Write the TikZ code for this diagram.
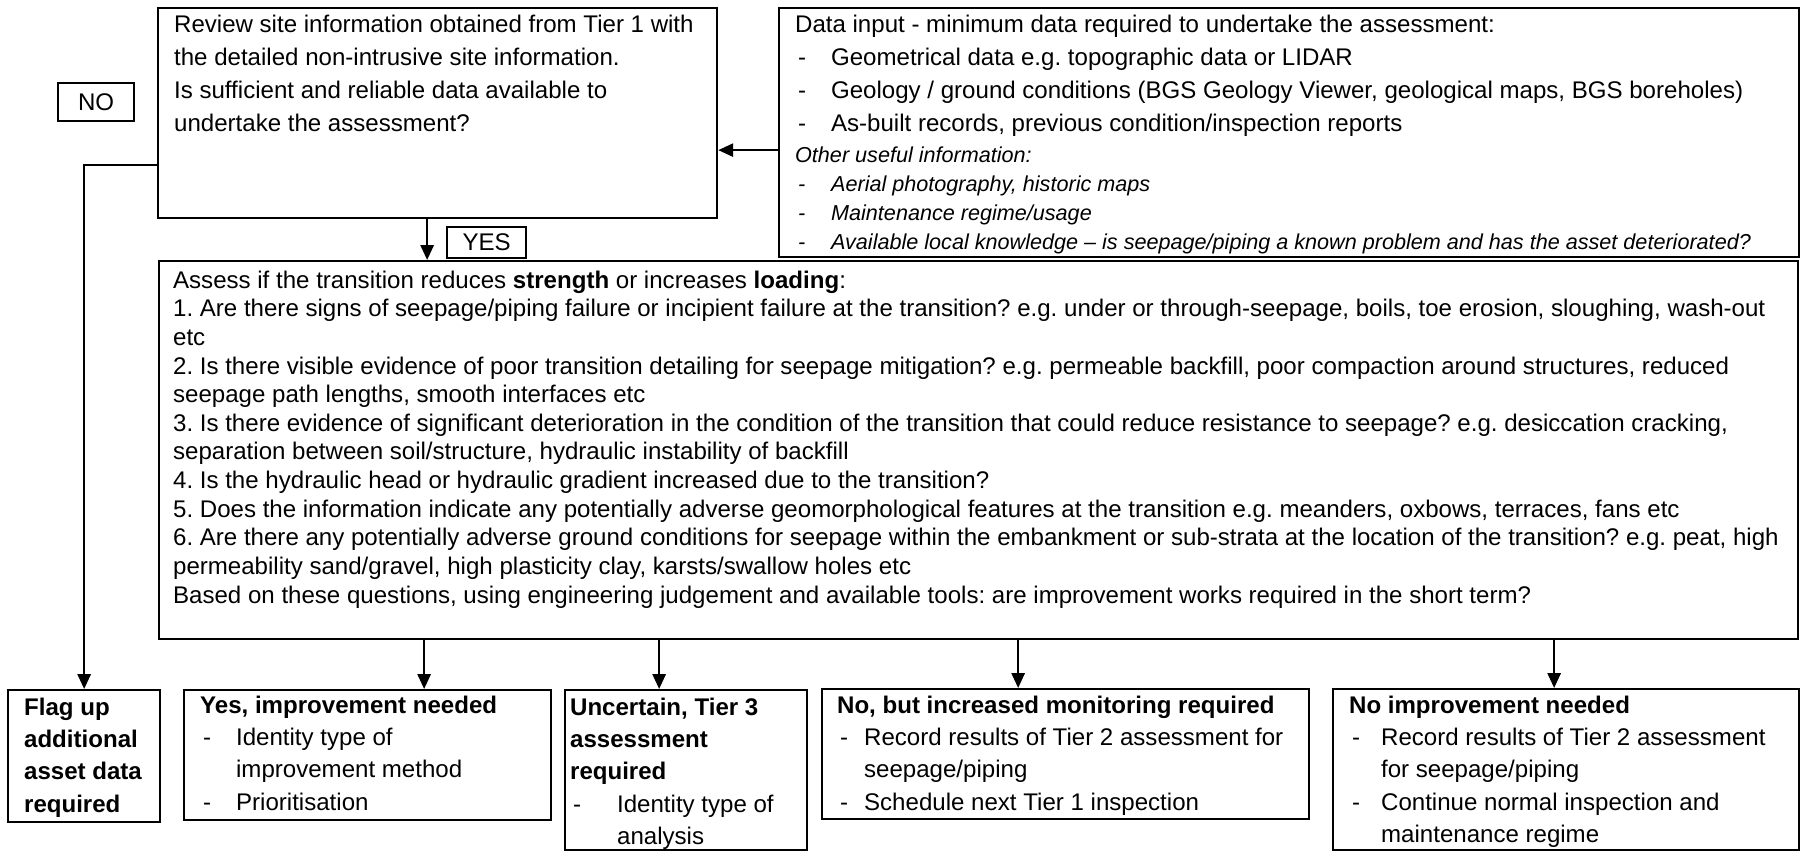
\documentclass[tikz,border=0pt]{standalone}
\usepackage{fontspec}
\setmainfont{Liberation Sans}
\usetikzlibrary{
	arrows.meta,
	positioning,
	calc
}

\newlength{\pu}
\setlength{\pu}{0.02cm}
% text block of a box: pad, width, height, first baseline, text
\newcommand{\boxtxt}[5]{\hspace*{#1\pu}\begin{minipage}[t][#3\pu][t]{\dimexpr#2\pu-#1\pu\relax}\raggedright\frenchspacing\hyphenpenalty=10000\exhyphenpenalty=10000\rule{0pt}{#4\pu}#5\end{minipage}}
\newcommand{\dsh}[1]{\makebox[#1\pu][l]{\hspace{3\pu}-}}
\newcommand{\ind}[1]{\hspace*{#1\pu}}
\newcommand{\fa}{\fontsize{13.7pt}{18.9pt}\selectfont}
\newcommand{\fb}{\fontsize{12.3pt}{16.5pt}\selectfont\itshape}
\newcommand{\fc}{\fontsize{13.7pt}{16.3pt}\selectfont}
\newcommand{\fd}{\fontsize{13.7pt}{18.4pt}\selectfont}

\begin{document}
\begin{tikzpicture}[
			x=\pu, y=-\pu,
			box/.style={draw, line width=1.3pt, inner sep=0pt, anchor=north west},
			tag/.style={draw, line width=1.3pt, inner sep=0pt, anchor=north west, font=\fa},
			fl/.style={-{Triangle[length=8.5pt, width=7.5pt]}, line width=1.3pt}
		]
		\useasboundingbox (0,0) rectangle (1800,851);

		\node[box, font=\fa] (review) at (157,7) {\boxtxt{16}{559}{210}{24}{Review site information obtained from Tier 1 with\\ the detailed non-intrusive site information.\\ Is sufficient and reliable data available to\\ undertake the assessment?}};
		\node[box, font=\fa] (data) at (778,7) {\boxtxt{16}{1020}{249}{24}{Data input - minimum data required to undertake the assessment:\\
			\dsh{36}Geometrical data e.g. topographic data or LIDAR\\
			\dsh{36}Geology / ground conditions (BGS Geology Viewer, geological maps, BGS boreholes)\\
			\dsh{36}As-built records, previous condition/inspection reports\par
			{\fb\vspace{1pt}Other useful information:\\
			\dsh{36}Aerial photography, historic maps\\
			\dsh{36}Maintenance regime/usage\\
			\dsh{36}Available local knowledge – is seepage/piping a known problem and has the asset deteriorated?\par}}};
		\node[tag, minimum width=1.52cm, minimum height=0.76cm] (no) at (57,82) {NO};
		\node[tag, minimum width=1.58cm, minimum height=0.62cm] (yes) at (446,226) {YES};

		\node[box, font=\fc] (assess) at (158,260) {\boxtxt{14}{1639}{378}{27}{Assess if the transition reduces \textbf{strength} or increases \textbf{loading}:\\
			1. Are there signs of seepage/piping failure or incipient failure at the transition? e.g. under or through-seepage, boils, toe erosion, sloughing, wash-out\\
			etc\\
			2. Is there visible evidence of poor transition detailing for seepage mitigation? e.g. permeable backfill, poor compaction around structures, reduced\\
			seepage path lengths, smooth interfaces etc\\
			3. Is there evidence of significant deterioration in the condition of the transition that could reduce resistance to seepage? e.g. desiccation cracking,\\
			separation between soil/structure, hydraulic instability of backfill\\
			4. Is the hydraulic head or hydraulic gradient increased due to the transition?\\
			5. Does the information indicate any potentially adverse geomorphological features at the transition e.g. meanders, oxbows, terraces, fans etc\\
			6. Are there any potentially adverse ground conditions for seepage within the embankment or sub-strata at the location of the transition? e.g. peat, high\\
			permeability sand/gravel, high plasticity clay, karsts/swallow holes etc\\
			Based on these questions, using engineering judgement and available tools: are improvement works required in the short term?}};

		% outcomes
		\node[box, font=\fd] (flag) at (7,689) {\boxtxt{16}{152}{132}{25}{\bfseries Flag up\\ additional\\ asset data\\ required}};
		\node[box, font=\fd] (yesb) at (183,689) {\boxtxt{16}{367}{130}{23}{{\bfseries Yes, improvement needed}\\
			\dsh{36}Identity type of\\ \ind{36}improvement method\\ \dsh{36}Prioritisation}};
		\node[box, font=\fd] (unc) at (564,689) {\boxtxt{5}{242}{160}{25}{{\bfseries Uncertain, Tier 3\\ assessment\\ required}\\
			\dsh{47}Identity type of\\ \ind{47}analysis}};
		\node[box, font=\fd] (nobut) at (821,688) {\boxtxt{15}{487}{130}{24}{{\bfseries No, but increased monitoring required}\\
			\dsh{27}Record results of Tier 2 assessment for\\ \ind{27}seepage/piping\\ \dsh{27}Schedule next Tier 1 inspection}};
		\node[box, font=\fd] (noimp) at (1332,688) {\boxtxt{16}{466}{161}{24}{{\bfseries No improvement needed}\\
			\dsh{32}Record results of Tier 2 assessment\\ \ind{32}for seepage/piping\\ \dsh{32}Continue normal inspection and\\ \ind{32}maintenance regime}};

		\coordinate (yin) at ([xshift=1.13cm]yesb.north);
		\coordinate (uin) at ([xshift=-0.54cm]unc.north);
		\coordinate (nin) at ([xshift=-0.95cm]nobut.north);
		\coordinate (iin) at ([xshift=-0.24cm]noimp.north);

		\draw[fl] ([yshift=-0.35cm]data.west) -- ([yshift=-0.35cm]data.west -| review.east);
		\draw[fl] ([xshift=-0.21cm]review.south) -- ([xshift=-0.21cm]review.south |- assess.north);
		\draw[fl] ([yshift=-1.04cm]review.west) -| (flag.north);
		\draw[fl] (yin |- assess.south) -- (yin);
		\draw[fl] (uin |- assess.south) -- (uin);
		\draw[fl] (nin |- assess.south) -- (nin);
		\draw[fl] (iin |- assess.south) -- (iin);
	\end{tikzpicture}
\end{document}
